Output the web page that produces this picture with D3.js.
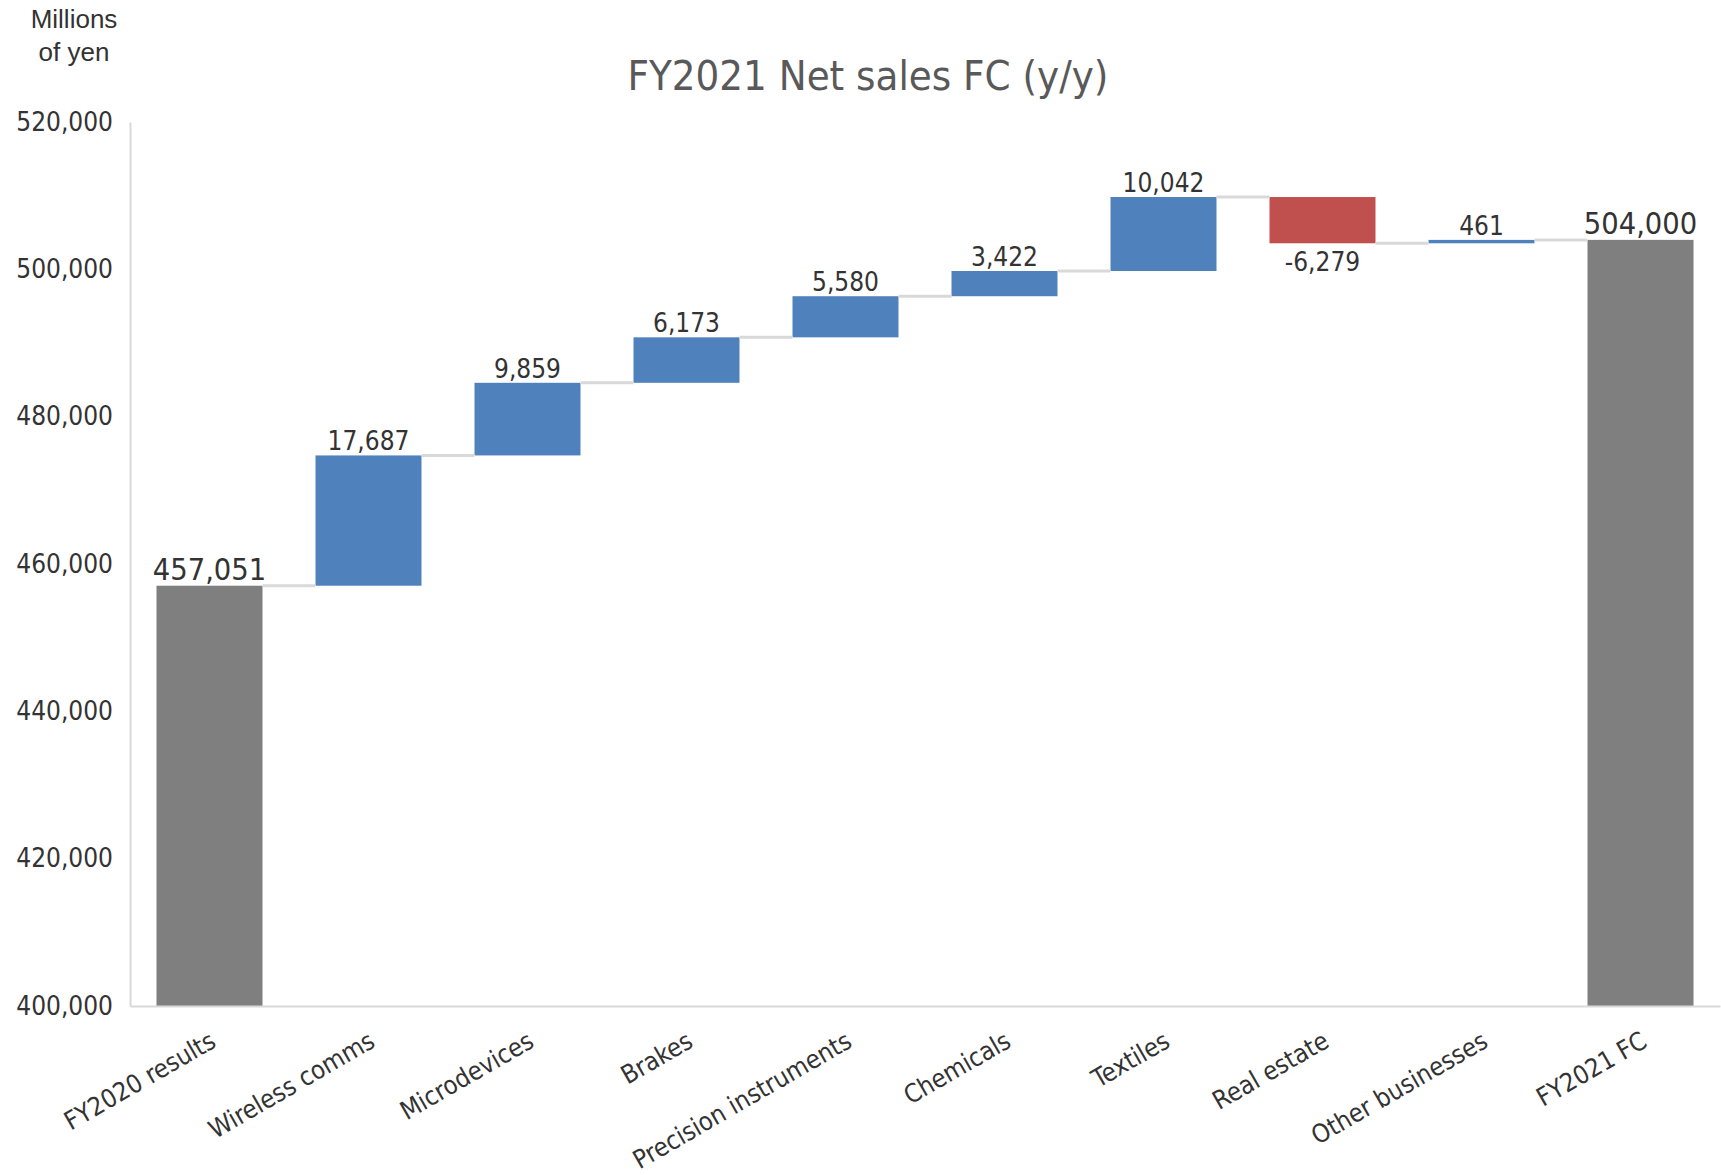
<!DOCTYPE html>
<html>
<head>
<meta charset="utf-8">
<script src="https://cdn.jsdelivr.net/npm/d3@7"></script>
<style>
  html, body { margin: 0; padding: 0; background: #fff; }
  svg { display: block; }
  .cond { font-family: "DejaVu Sans Condensed", "DejaVu Sans", sans-serif; font-stretch: condensed; }
</style>
</head>
<body>
<svg id="chart" width="1721" height="1175"></svg>
<script>
const categories = ["FY2020 results", "Wireless comms", "Microdevices", "Brakes", "Precision instruments", "Chemicals", "Textiles", "Real estate", "Other businesses", "FY2021 FC"];
const startValue = 457051;
const deltas = [17687, 9859, 6173, 5580, 3422, 10042, -6279, 461];
const endValue = 504000;
const yTicks = [400000, 420000, 440000, 460000, 480000, 500000, 520000];
const titleText = "FY2021 Net sales FC (y/y)";
const unitLines = ["Millions", "of yen"];

const colors = { total: "#7f7f7f", up: "#4f81bd", down: "#c0504d", connector: "#d9d9d9", axis: "#d9d9d9", text: "#333333", title: "#595959" };

const fmt = d3.formatLocale({ decimal: ".", thousands: ",", grouping: [3], currency: ["", ""], minus: "-" }).format(",");

// build waterfall rows
const rows = [];
rows.push({ cat: categories[0], lo: 400000, hi: startValue, end: startValue, label: fmt(startValue), kind: "total" });
let running = startValue;
deltas.forEach((d, i) => {
  const prev = running;
  running = running + d;
  rows.push({ cat: categories[i + 1], lo: Math.min(prev, running), hi: Math.max(prev, running), end: running, label: fmt(d), kind: d >= 0 ? "up" : "down" });
});
rows.push({ cat: categories[9], lo: 400000, hi: endValue, end: endValue, label: fmt(endValue), kind: "total" });

const svg = d3.select("#chart");
const x = d3.scaleBand().domain(categories).range([130, 1720]).paddingInner(1/3).paddingOuter(1/6);
const y = d3.scaleLinear().domain([400000, 520000]).range([1006, 122]);

// title
svg.append("text").attr("class", "cond")
  .attr("x", 868).attr("y", 90)
  .attr("text-anchor", "middle")
  .attr("font-size", 41.5).attr("fill", colors.title)
  .text(titleText);

// unit label
svg.append("text")
  .attr("font-family", "'Liberation Sans', Arial, sans-serif")
  .attr("font-size", 26).attr("fill", colors.text)
  .attr("text-anchor", "middle")
  .selectAll("tspan").data(unitLines).join("tspan")
  .attr("x", 74).attr("y", (d, i) => 28 + i * 33)
  .text(d => d);

// y axis
const yAxis = d3.axisLeft(y).tickValues(yTicks).tickFormat(fmt).tickSize(0).tickPadding(17);
const gy = svg.append("g").attr("transform", "translate(130,0)").call(yAxis);
gy.select(".domain").attr("stroke", colors.axis).attr("stroke-width", 2);
gy.selectAll("text").attr("class", "cond").attr("font-size", 26).attr("fill", colors.text);

// bars
svg.append("g").selectAll("rect").data(rows).join("rect")
  .attr("x", d => x(d.cat))
  .attr("width", x.bandwidth())
  .attr("y", d => y(d.hi))
  .attr("height", d => Math.max(2, y(d.lo) - y(d.hi)))
  .attr("fill", d => colors[d.kind]);

// x axis (bottom line)
const xAxis = d3.axisBottom(x).tickSize(0).tickFormat("");
const gx = svg.append("g").attr("transform", "translate(0,1006)").call(xAxis);
gx.select(".domain").attr("stroke", colors.axis).attr("stroke-width", 2);

// connectors
const conns = rows.slice(0, rows.length - 1).map((r, i) => ({ from: r.cat, to: rows[i + 1].cat, v: r.end }));
svg.append("g").selectAll("line").data(conns).join("line")
  .attr("x1", d => x(d.from) + x.bandwidth())
  .attr("x2", d => x(d.to))
  .attr("y1", d => y(d.v)).attr("y2", d => y(d.v))
  .attr("stroke", colors.connector).attr("stroke-width", 3);

// data labels
svg.append("g").selectAll("text").data(rows).join("text")
  .attr("class", "cond")
  .attr("x", d => x(d.cat) + x.bandwidth() / 2)
  .attr("y", d => d.kind === "down" ? y(d.lo) + 28 : y(d.hi) - (d.kind === "total" ? 6 : 5))
  .attr("text-anchor", "middle")
  .attr("font-size", d => d.kind === "total" ? 30.5 : 26)
  .attr("fill", colors.text)
  .text(d => d.label);

// category labels
svg.append("g").selectAll("text").data(categories).join("text")
  .attr("class", "cond")
  .attr("transform", d => `translate(${x(d) + x.bandwidth() / 2 - 1},1030) rotate(-30)`)
  .attr("dy", "0.72em")
  .attr("text-anchor", "end")
  .attr("font-size", 25.5)
  .attr("fill", colors.text)
  .text(d => d);
</script>
</body>
</html>
